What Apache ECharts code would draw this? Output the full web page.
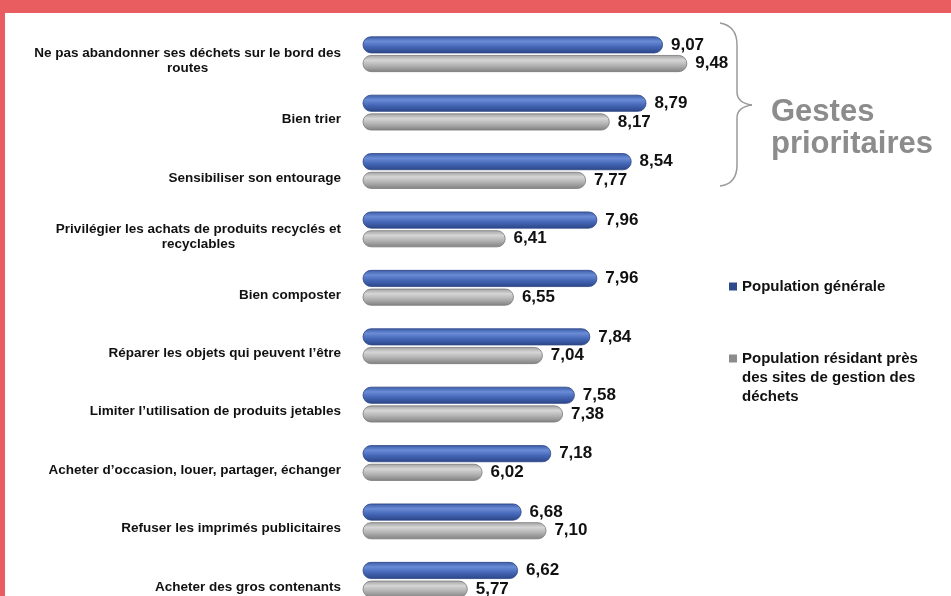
<!DOCTYPE html>
<html>
<head>
<meta charset="utf-8">
<script src="https://cdn.jsdelivr.net/npm/echarts@6/dist/echarts.min.js"></script>
<style>
html, body { margin: 0; padding: 0; background: #fff; overflow: hidden; }
/* la dernière ligne est coupée en bas dans l'original : le graphique dépasse la fenêtre */
#gestesChart { width: 951px; height: 620px; }
</style>
</head>
<body>
<div id="gestesChart"></div>
<script>
// données
const categories = [
    'Ne pas abandonner ses déchets sur le bord des\nroutes',
    'Bien trier',
    'Sensibiliser son entourage',
    'Privilégier les achats de produits recyclés et\nrecyclables',
    'Bien composter',
    'Réparer les objets qui peuvent l’être',
    'Limiter l’utilisation de produits jetables',
    'Acheter d’occasion, louer, partager, échanger',
    'Refuser les imprimés publicitaires',
    'Acheter des gros contenants'
];
const seriesNames = [
    'Population générale',
    'Population résidant près des sites de gestion des déchets'
];
const generalValues = [9.07, 8.79, 8.54, 7.96, 7.96, 7.84, 7.58, 7.18, 6.68, 6.62];
const riverainValues = [9.48, 8.17, 7.77, 6.41, 6.55, 7.04, 7.38, 6.02, 7.10, 5.77];

const fontFam = '"Liberation Sans", Arial, sans-serif';
const red = '#e95c60';
const braceColor = '#9a9a9a';

let myChart = echarts.init(document.getElementById('gestesChart'));

// dégradé vertical pour l'effet cylindre
function cyl(c1, c2, c3, c4) {
    return {
        type: 'linear', x: 0, y: 0, x2: 0, y2: 1,
        colorStops: [
            {offset: 0, color: c1},
            {offset: 0.3, color: c2},
            {offset: 0.6, color: c3},
            {offset: 1, color: c4}
        ]
    };
}

const valLabel = {
    show: true,
    position: 'right',
    distance: 8,
    color: '#111',
    fontFamily: fontFam,
    fontWeight: 'bold',
    fontSize: 17,
    formatter: p => p.value.toFixed(2).replace('.', ',')
};

const braceStyle = {stroke: braceColor, lineWidth: 1.5, fill: null};
const legendText = {color: '#111', fontFamily: fontFam, fontWeight: 'bold', fontSize: 15, lineHeight: 19};

myChart.setOption({
    animation: false,
    backgroundColor: '#fff',
    grid: {
        left: 363,
        width: 355,
        top: 25,
        height: 584
    },
    xAxis: {
        type: 'value',
        min: 4,
        max: 10,
        show: false
    },
    yAxis: {
        type: 'category',
        inverse: true,
        data: categories,
        axisLine: {show: false},
        axisTick: {show: false},
        axisLabel: {
            margin: 22,
            color: '#111',
            fontFamily: fontFam,
            fontWeight: 'bold',
            fontSize: 13.5,
            lineHeight: 15,
            padding: [14, 0, 0, 0],
            formatter: v => v.split('\n').map(l => '{c|' + l + '}').join('\n'),
            rich: {
                c: {
                    align: 'center',
                    color: '#111',
                    fontFamily: fontFam,
                    fontWeight: 'bold',
                    fontSize: 13.5,
                    lineHeight: 15
                }
            }
        }
    },
    legend: [
        {
            data: [seriesNames[0]],
            left: 724,
            top: 272,
            orient: 'vertical',
            icon: 'rect',
            itemWidth: 8,
            itemHeight: 8,
            itemStyle: {borderWidth: 0, color: '#2f4a8c'},
            textStyle: legendText
        },
        {
            // icône placée en haut, au niveau de la première ligne
            data: [{name: seriesNames[1], icon: 'path://M0,0H8V8H0Z M0,46H0.01V46.01H0Z'}],
            left: 724,
            top: 344,
            orient: 'vertical',
            itemWidth: 8,
            itemHeight: 46,
            itemStyle: {borderWidth: 0, color: '#8c8c8c'},
            textStyle: legendText,
            formatter: n => n === seriesNames[1] ? 'Population résidant près\ndes sites de gestion des\ndéchets' : n
        }
    ],
    series: [
        {
            name: seriesNames[0],
            type: 'bar',
            data: generalValues,
            barWidth: 17,
            barGap: '10%',
            label: valLabel,
            itemStyle: {
                color: cyl('#3a5aa6', '#6a8cd6', '#4668b8', '#2b4688'),
                borderColor: '#2c4583',
                borderWidth: 0.8,
                borderRadius: 8.5
            }
        },
        {
            name: seriesNames[1],
            type: 'bar',
            data: riverainValues,
            barWidth: 17,
            label: valLabel,
            itemStyle: {
                color: cyl('#a0a0a0', '#d6d6d6', '#b4b4b4', '#808080'),
                borderColor: '#7a7a7a',
                borderWidth: 0.8,
                borderRadius: 8.5
            }
        }
    ],
    graphic: [
        // cadre rouge
        {type: 'rect', shape: {x: 0, y: 0, width: 951, height: 13}, style: {fill: red}, z: 100},
        {type: 'rect', shape: {x: 0, y: 0, width: 5, height: 620}, style: {fill: red}, z: 100},
        // accolade "Gestes prioritaires"
        {type: 'bezierCurve', z: 50, shape: {x1: 720, y1: 23, cpx1: 737, cpy1: 26, x2: 737, y2: 45}, style: braceStyle},
        {type: 'line', z: 50, shape: {x1: 737, y1: 45, x2: 737, y2: 92}, style: braceStyle},
        {type: 'bezierCurve', z: 50, shape: {x1: 737, y1: 92, cpx1: 737, cpy1: 103, x2: 752, y2: 105}, style: braceStyle},
        {type: 'bezierCurve', z: 50, shape: {x1: 752, y1: 105, cpx1: 737, cpy1: 107, x2: 737, y2: 118}, style: braceStyle},
        {type: 'line', z: 50, shape: {x1: 737, y1: 118, x2: 737, y2: 165}, style: braceStyle},
        {type: 'bezierCurve', z: 50, shape: {x1: 737, y1: 165, cpx1: 737, cpy1: 184, x2: 720, y2: 186}, style: braceStyle},
        {
            type: 'text',
            z: 50,
            left: 771,
            top: 96,
            style: {
                text: 'Gestes\nprioritaires',
                fill: '#8c8c8c',
                font: 'bold 31px ' + fontFam,
                lineHeight: 32
            }
        }
    ]
});
</script>
</body>
</html>
